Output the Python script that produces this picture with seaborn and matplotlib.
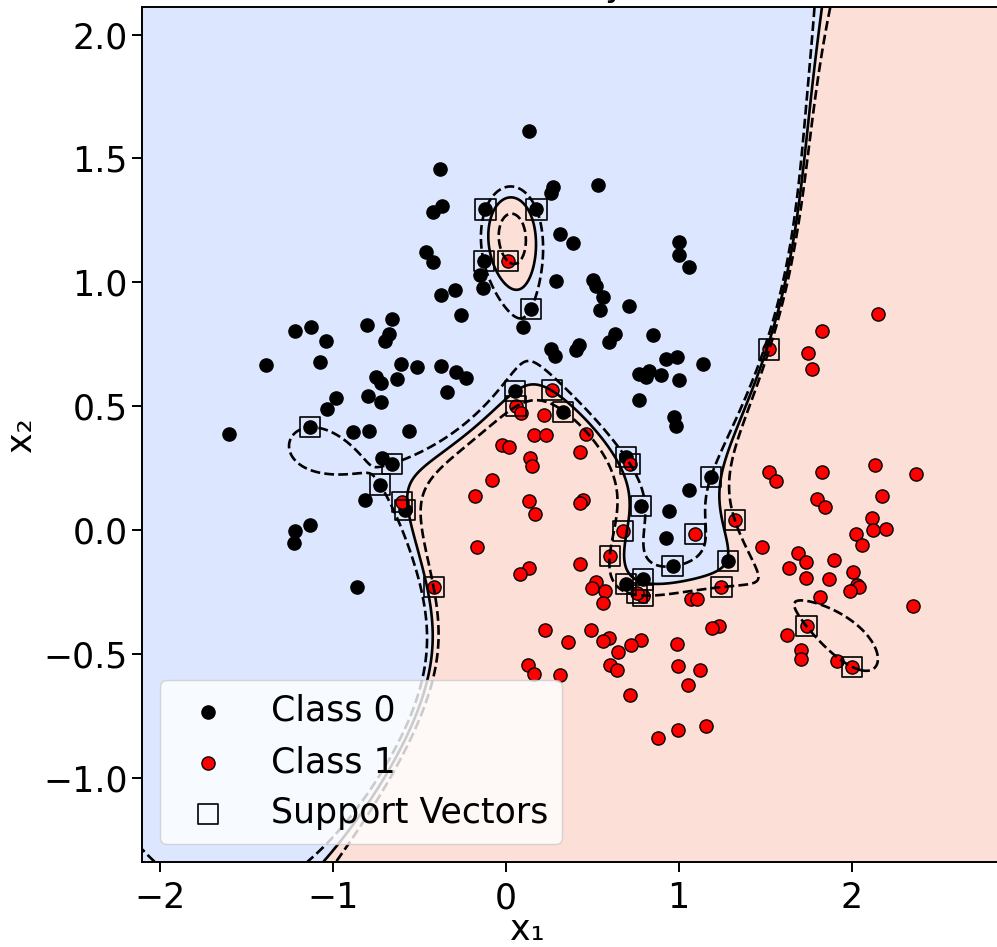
import numpy as np
import pandas as pd
import matplotlib
matplotlib.use("Agg")
import matplotlib.pyplot as plt
import seaborn as sns

# Two-moons style sample: class 0 (upper moon) and class 1 (lower moon)
class0_x1 = [-1.217,-1.124,-0.800,-0.656,-0.677,-0.700,-1.038,-1.385,-1.076,-0.604,-0.515,-0.748,-0.719,-0.627,-0.980,-1.032,-0.797,-0.719,-1.601,-1.130,-0.884,-0.791,-0.560,-0.714,-0.658,-0.727,-0.812,-0.584,-1.217,-1.134,-1.225,-0.862,0.135,-0.382,0.531,0.274,0.260,-0.366,-0.421,-0.117,0.178,0.3125,0.389,-0.463,-0.421,-0.127,-0.150,-0.131,0.293,0.505,0.521,-0.376,-0.291,0.560,0.544,0.145,-0.256,0.098,0.631,1.001,1.003,1.061,0.714,0.852,0.598,0.930,0.991,1.142,0.771,0.829,0.814,0.901,1.003,0.771,0.972,0.984,0.694,1.186,1.061,0.785,0.945,0.926,0.264,0.284,0.424,0.409,-0.372,-0.289,-0.227,-0.337,0.052,0.332,0.965,1.286,0.698,0.795]
class0_x2 = [0.805,0.818,0.826,0.853,0.793,0.765,0.762,0.668,0.678,0.671,0.658,0.617,0.594,0.611,0.534,0.487,0.543,0.516,0.386,0.415,0.395,0.399,0.399,0.292,0.268,0.184,0.121,0.083,-0.004,0.019,-0.051,-0.228,1.610,1.458,1.391,1.384,1.361,1.310,1.285,1.294,1.294,1.197,1.159,1.121,1.083,1.085,1.031,0.978,1.004,1.008,0.987,0.948,0.968,0.940,0.887,0.893,0.867,0.818,0.793,1.163,1.112,1.061,0.906,0.789,0.758,0.692,0.699,0.671,0.631,0.641,0.619,0.628,0.604,0.524,0.456,0.419,0.294,0.213,0.161,0.096,0.076,-0.030,0.729,0.702,0.749,0.726,0.664,0.639,0.612,0.556,0.561,0.476,-0.146,-0.123,-0.217,-0.199]
class1_x1 = [0.013,0.270,0.062,0.091,0.222,0.162,0.231,0.463,-0.019,0.019,0.428,0.139,0.152,-0.077,-0.179,0.135,0.168,0.447,0.428,-0.166,0.718,1.325,0.677,1.094,-0.600,-0.417,0.133,0.085,0.431,0.226,0.362,0.129,0.162,0.317,0.602,0.525,0.499,0.577,0.563,0.795,0.758,1.248,1.071,1.104,1.234,1.194,0.496,0.598,0.563,0.781,0.727,0.988,0.650,0.602,0.644,0.997,1.123,1.052,0.718,1.157,0.997,0.881,2.155,1.830,1.524,1.749,1.773,1.524,1.561,1.827,2.135,2.373,1.802,1.846,2.176,2.116,2.126,2.199,2.025,2.058,1.480,1.692,1.734,1.638,1.900,1.734,1.871,2.006,2.030,2.045,1.991,1.817,2.357,1.740,1.624,1.705,1.705,1.917,2.004]
class1_x2 = [1.085,0.567,0.500,0.473,0.464,0.382,0.382,0.386,0.345,0.335,0.314,0.292,0.258,0.204,0.137,0.117,0.067,0.121,0.110,-0.067,0.268,0.041,-0.002,-0.017,0.113,-0.230,-0.152,-0.179,-0.135,-0.404,-0.452,-0.545,-0.579,-0.586,-0.103,-0.210,-0.233,-0.247,-0.293,-0.264,-0.252,-0.230,-0.276,-0.276,-0.385,-0.394,-0.404,-0.437,-0.448,-0.444,-0.462,-0.458,-0.491,-0.545,-0.565,-0.549,-0.565,-0.623,-0.666,-0.791,-0.808,-0.838,0.873,0.803,0.729,0.715,0.651,0.235,0.200,0.234,0.262,0.228,0.126,0.093,0.136,0.050,0.000,0.006,-0.015,-0.062,-0.067,-0.094,-0.130,-0.152,-0.119,-0.195,-0.197,-0.168,-0.220,-0.229,-0.244,-0.271,-0.307,-0.388,-0.425,-0.485,-0.522,-0.529,-0.552]

class_names = ["Class 0", "Class 1"]
class_colors = ["black", "red"]

# SVM hyper-parameters (RBF kernel)
GAMMA = 1.0
C_PENALTY = 10000.0

df = pd.DataFrame({
    "x1": class0_x1 + class1_x1,
    "x2": class0_x2 + class1_x2,
    "label": [class_names[0]] * len(class0_x1) + [class_names[1]] * len(class1_x1),
})
X = df[["x1", "x2"]].to_numpy()
y = np.where(df["label"] == class_names[1], 1.0, -1.0)


def rbf(A, B, gamma):
    return np.exp(-gamma * ((A[:, None, :] - B[None, :, :]) ** 2).sum(-1))


def fit_svc(X, y, C, gamma, tol=1e-3, max_iter=400000):
    """Soft-margin kernel SVM trained with SMO (second-order working set selection)."""
    K = rbf(X, X, gamma)
    a = np.zeros(len(y))
    G = -np.ones(len(y))
    gmax = gmin = 0.0
    for _ in range(max_iter):
        yG = -y * G
        up = ((y > 0) & (a < C)) | ((y < 0) & (a > 0))
        low = ((y > 0) & (a > 0)) | ((y < 0) & (a < C))
        yu = np.where(up, yG, -np.inf)
        i = int(np.argmax(yu))
        gmax = yu[i]
        gmin = np.where(low, yG, np.inf).min()
        if gmax - gmin < tol:
            break
        bv = gmax - yG
        quad = np.maximum(2.0 - 2.0 * K[i], 1e-12)
        obj = np.where(low & (bv > 0), -bv ** 2 / quad, np.inf)
        j = int(np.argmin(obj))
        t = bv[j] / quad[j]
        bi = C - a[i] if y[i] > 0 else a[i]
        bj = a[j] if y[j] > 0 else C - a[j]
        t = min(t, bi, bj)
        a[i] += y[i] * t
        a[j] -= y[j] * t
        G += t * y * (K[:, i] - K[:, j])
    yG = -y * G
    free = (a > 1e-8) & (a < C - 1e-8)
    b = yG[free].mean() if free.any() else 0.5 * (gmax + gmin)
    return a, b


alpha, bias = fit_svc(X, y, C_PENALTY, GAMMA)
sv = alpha > 1e-8
sv_points = X[sv]
sv_coef = alpha[sv] * y[sv]

x_min, x_max = X[:, 0].min() - 0.5, X[:, 0].max() + 0.5
y_min, y_max = X[:, 1].min() - 0.5, X[:, 1].max() + 0.5
xx, yy = np.meshgrid(np.linspace(x_min, x_max, 500), np.linspace(y_min, y_max, 500))
grid = np.column_stack([xx.ravel(), yy.ravel()])
Z = (rbf(grid, sv_points, GAMMA) @ sv_coef + bias).reshape(xx.shape)

FS = 25
plt.rcParams.update({
    "font.family": ["DejaVu Sans"],
    "font.size": FS,
    "axes.linewidth": 1.4,
    "xtick.major.size": 7, "ytick.major.size": 7,
    "xtick.major.width": 1.4, "ytick.major.width": 1.4,
    "xtick.major.pad": 7, "ytick.major.pad": 3.5,
    "xtick.labelsize": FS, "ytick.labelsize": FS,
})

fig = plt.figure(figsize=(9.97, 9.47), dpi=100)
ax = fig.add_axes([0.1428, 0.0901, 0.8627, 0.9022])

cmap = plt.get_cmap("coolwarm")
def tint(c, a=0.31):
    r, g, b_, _ = cmap(c)
    return (1 - a + a * r, 1 - a + a * g, 1 - a + a * b_)

ax.contourf(xx, yy, Z, levels=[Z.min() - 1, 0, Z.max() + 1],
            colors=[tint(0.25), tint(0.75)])

for name, col in zip(class_names, class_colors):
    sub = df[df["label"] == name]
    sns.scatterplot(data=sub, x="x1", y="x2", color=col, s=90,
                    edgecolor="black", linewidth=1.0, label=name, ax=ax, zorder=1)

ax.scatter(sv_points[:, 0], sv_points[:, 1], s=210, marker="s",
           facecolors="none", edgecolors="black", linewidths=1.2,
           label="Support Vectors", zorder=1)

ax.contour(xx, yy, Z, levels=[-1, 0, 1], colors="black",
           linestyles=["--", "-", "--"], linewidths=1.9, zorder=2)

ax.set_xlim(x_min, x_max)
ax.set_ylim(y_min, y_max)
ax.set_xticks([-2, -1, 0, 1, 2])
ax.set_yticks([-1.0, -0.5, 0.0, 0.5, 1.0, 1.5, 2.0])
ax.set_xlabel("x\u2081", fontsize=FS)
ax.set_ylabel("x\u2082", fontsize=FS)
ax.xaxis.set_label_coords(0.447, -0.0605)
ax.yaxis.set_label_coords(-0.1215, 0.5)
ax.set_title("SVM Decision Boundary, RBF Kernel", fontsize=FS, pad=8, x=0.444)

ax.legend(loc="lower left", fontsize=FS)

fig.savefig("out.png", dpi=100)
